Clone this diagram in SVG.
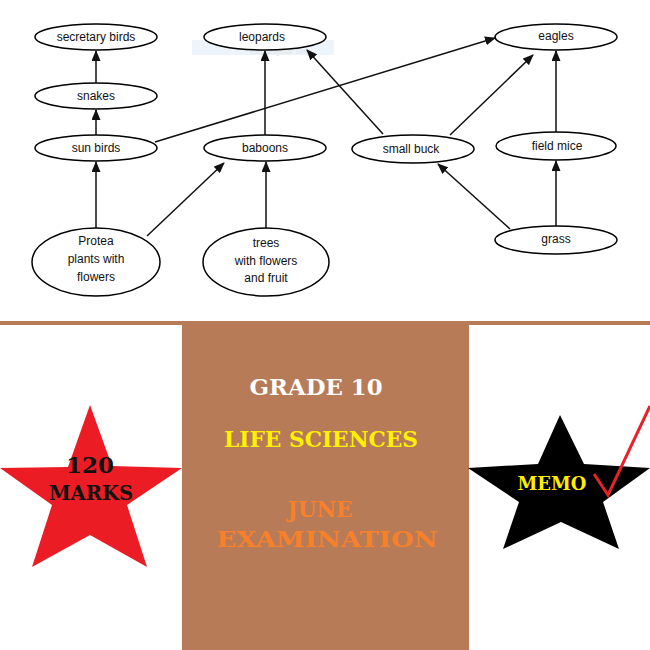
<svg xmlns="http://www.w3.org/2000/svg" width="650" height="650" viewBox="0 0 650 650">
<style>
.node ellipse{fill:#fff;stroke:#000;stroke-width:1.5}
.node text{font-family:"Liberation Sans",Arial,sans-serif;font-size:12px;fill:#111;text-anchor:middle}
.edge{stroke:#111;stroke-width:1.5;fill:none;marker-end:url(#ah)}
.title{font-family:"DejaVu Serif","Liberation Serif",serif;font-weight:bold;text-anchor:middle}
</style>
<defs>
<marker id="ah" markerUnits="userSpaceOnUse" markerWidth="11" markerHeight="9" refX="10" refY="4.5" orient="auto">
<path d="M0,0 L11,4.5 L0,9 z" fill="#111"/>
</marker>
</defs>
<rect width="650" height="650" fill="#fff"/>
<g id="snip">
<rect x="192" y="40" width="142" height="15" fill="#eef4fb"/>
<text x="250" y="54" font-family="Liberation Sans,sans-serif" font-size="8" fill="#dfe5ec">Rectangular Snip</text>
</g>
<g id="connectors">
<line class="edge" x1="96" y1="83" x2="96" y2="51"/>
<line class="edge" x1="96" y1="135" x2="96" y2="110"/>
<line class="edge" x1="96" y1="228" x2="96" y2="162"/>
<line class="edge" x1="147" y1="236" x2="224" y2="163"/>
<line class="edge" x1="266" y1="228" x2="266" y2="162"/>
<line class="edge" x1="265" y1="135" x2="265" y2="51"/>
<line class="edge" x1="155" y1="142" x2="495" y2="38"/>
<line class="edge" x1="383" y1="134" x2="307" y2="50"/>
<line class="edge" x1="450" y1="135" x2="533" y2="55"/>
<line class="edge" x1="556" y1="132" x2="556" y2="51"/>
<line class="edge" x1="556" y1="226" x2="556" y2="161"/>
<line class="edge" x1="510" y1="229" x2="438" y2="164"/>
</g>
<g id="secretary-birds" class="node"><ellipse cx="96" cy="37" rx="61" ry="13"/><text x="96" y="41">secretary birds</text></g>
<g id="leopards" class="node"><ellipse cx="265" cy="37" rx="61" ry="13"/><text x="262" y="41">leopards</text></g>
<g id="eagles" class="node"><ellipse cx="556" cy="37" rx="61" ry="13"/><text x="556" y="40">eagles</text></g>
<g id="snakes" class="node"><ellipse cx="96" cy="96" rx="61" ry="13"/><text x="96" y="100">snakes</text></g>
<g id="sun-birds" class="node"><ellipse cx="96" cy="148" rx="61" ry="13"/><text x="96" y="152">sun birds</text></g>
<g id="baboons" class="node"><ellipse cx="265" cy="148" rx="61" ry="13"/><text x="265" y="152">baboons</text></g>
<g id="small-buck" class="node"><ellipse cx="413" cy="149" rx="61" ry="14"/><text x="411" y="153">small buck</text></g>
<g id="field-mice" class="node"><ellipse cx="556" cy="146" rx="60" ry="14"/><text x="557" y="150">field mice</text></g>
<g id="grass" class="node"><ellipse cx="556" cy="240" rx="61" ry="14"/><text x="556" y="243">grass</text></g>
<g id="protea" class="node"><ellipse cx="96" cy="262" rx="64" ry="34"/><text x="96" y="245">Protea</text><text x="96" y="263">plants with</text><text x="96" y="281">flowers</text></g>
<g id="trees" class="node"><ellipse cx="266" cy="262" rx="63" ry="34"/><text x="266" y="247">trees</text><text x="266" y="265">with flowers</text><text x="266" y="282">and fruit</text></g>
<rect x="0" y="321" width="650" height="4" fill="#b77b57"/>
<rect x="182" y="325" width="287" height="325" fill="#b77b57"/>
<g id="red-star">
<polygon points="90,405 112,466 182,468 127,505 147,567 90,535 32,567 52,505 0,468 68,467" fill="#ec1c24"/>
<text class="title" x="90" y="473" font-size="23" fill="#111" textLength="48" lengthAdjust="spacingAndGlyphs">120</text>
<text class="title" x="91" y="500" font-size="20" fill="#111" textLength="84" lengthAdjust="spacingAndGlyphs">MARKS</text>
</g>
<g id="black-star">
<polygon points="560,415 584,464 650,468 603,502 619,549 561,522 503,549 519,502 468,468 538,464" fill="#000"/>
<text class="title" x="552" y="490" font-size="19" fill="#ffee00" textLength="69" lengthAdjust="spacingAndGlyphs">MEMO</text>
<polyline points="594,474 608,495 650,406" fill="none" stroke="#e8222a" stroke-width="3"/>
</g>
<g id="titles">
<text class="title" x="316" y="395" font-size="23" fill="#fff" textLength="133" lengthAdjust="spacingAndGlyphs">GRADE 10</text>
<text class="title" x="321" y="447" font-size="23" fill="#fff200" textLength="194" lengthAdjust="spacingAndGlyphs">LIFE SCIENCES</text>
<text class="title" x="320" y="517" font-size="23" fill="#f7802b" textLength="65" lengthAdjust="spacingAndGlyphs">JUNE</text>
<text class="title" x="327" y="547" font-size="23" fill="#f7802b" textLength="221" lengthAdjust="spacingAndGlyphs">EXAMINATION</text>
</g>
</svg>
